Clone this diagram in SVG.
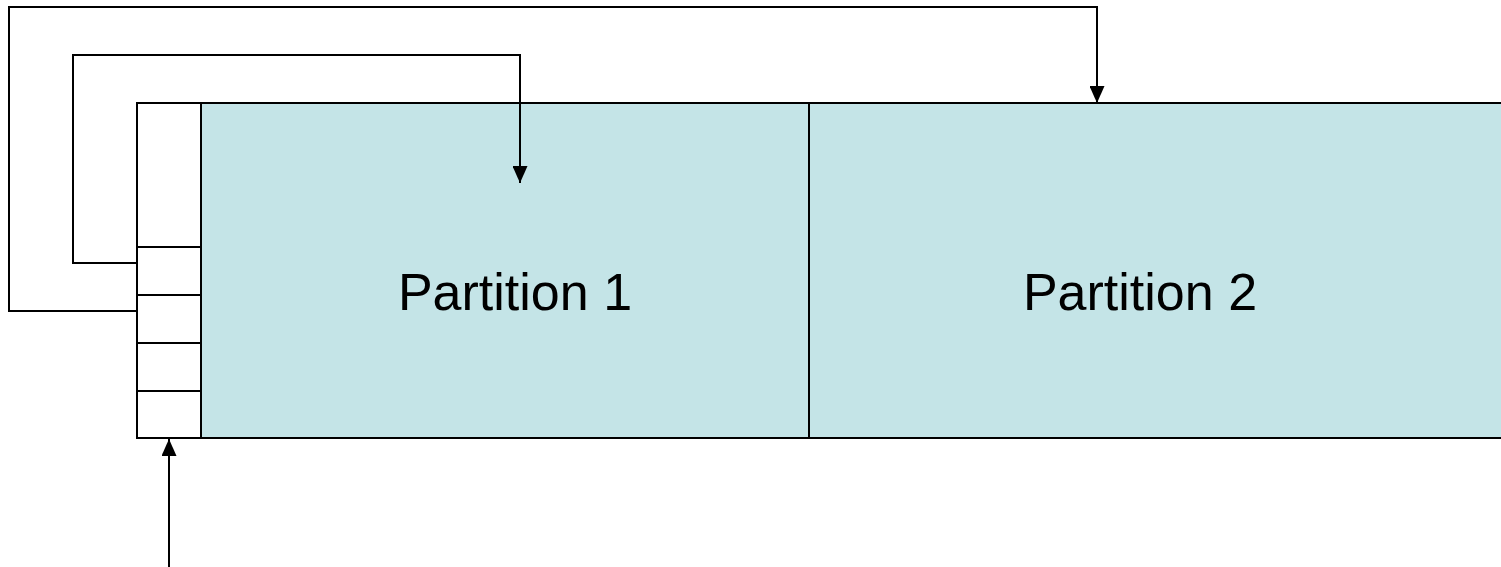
<svg xmlns="http://www.w3.org/2000/svg" width="1501" height="567" viewBox="0 0 1501 567">
<style>
.box{stroke:#000;stroke-width:2;}
.part{fill:#C4E4E7;}
.cell{fill:#fff;}
.lbl{font-family:"Liberation Sans",Arial,sans-serif;font-size:52px;fill:#000;text-anchor:middle;}
.conn{fill:none;stroke:#000;stroke-width:2;}
</style>
<defs>
<marker id="arr" markerWidth="17" markerHeight="15" refX="17" refY="7.5" orient="auto" markerUnits="userSpaceOnUse" viewBox="0 0 17 15">
<path d="M0,0 L17,7.5 L0,15 Z" fill="#000"/>
</marker>
</defs>
<g id="partition1">
<rect class="box part" x="201" y="103" width="608" height="335"/>
<text class="lbl" x="515" y="310">Partition 1</text>
</g>
<g id="partition2">
<path class="part" d="M809,103 H1502 V438 H809 Z"/>
<path class="box" fill="none" d="M1502,103 H809 V438 H1502"/>
<text class="lbl" x="1140" y="310">Partition 2</text>
</g>
<g id="index">
<rect class="box cell" x="137" y="103" width="64" height="144"/>
<rect class="box cell" x="137" y="247" width="64" height="48"/>
<rect class="box cell" x="137" y="295" width="64" height="48"/>
<rect class="box cell" x="137" y="343" width="64" height="48"/>
<rect class="box cell" x="137" y="391" width="64" height="47"/>
</g>
<g id="connectors">
<path class="conn" d="M137,263 H73 V55 H520 V183" marker-end="url(#arr)"/>
<path class="conn" d="M137,311 H9 V7 H1097 V103" marker-end="url(#arr)"/>
<path class="conn" d="M169,567 V439" marker-end="url(#arr)"/>
</g>
</svg>
